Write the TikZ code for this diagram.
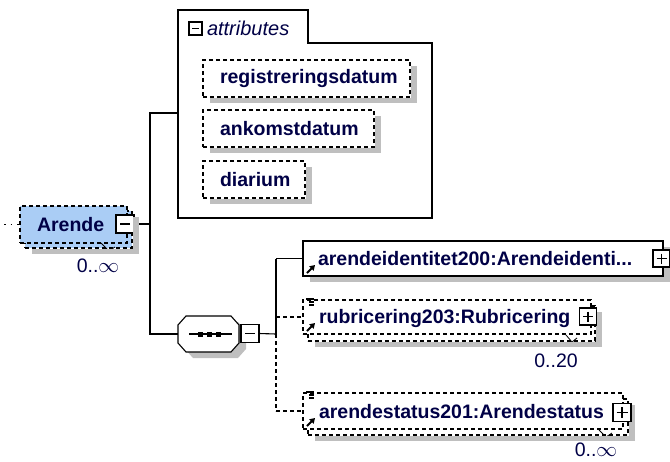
\documentclass[tikz,border=0pt]{standalone}
\usepackage{fontspec}
\setmainfont{Liberation Sans}
\usetikzlibrary{arrows.meta}
\definecolor{xsnavy}{RGB}{0,0,70}
\definecolor{xsblue}{RGB}{170,205,245}
\begin{document}
\begin{tikzpicture}[x=1pt,y=-1pt,
  every node/.style={inner sep=0pt,outer sep=0pt},
  box/.style={draw,line width=1.1pt,fill=white,anchor=north west},
  optbox/.style={box,dash pattern=on 4pt off 3pt},
  grey shadow/.style={fill=black!25},
  elname/.style={font=\fontsize{19.5}{22}\selectfont\bfseries,text=xsnavy,anchor=west},
  occurs/.style={font=\fontsize{19.5}{22}\selectfont,text=xsnavy},
  pm/.style={draw,line width=1.1pt,fill=white,minimum size=17pt},
  wire/.style={line width=1.1pt},
  optwire/.style={wire,dash pattern=on 4pt off 3pt},
  reftip/.style={line width=1.8pt,-{Triangle[length=5pt,width=6pt]}}]
\useasboundingbox (0,0) rectangle (670,461);

\node[optbox,fill=xsblue,minimum width=107,minimum height=37] (arendeback) at (25,211) {};
\node[optbox,fill=xsblue,minimum width=107,minimum height=37] (arende) at (20,206) {};
\node[elname] (arendetxt) at ([shift={(17,0)}]arende.west) {Arende};
\node[pm,minimum size=18pt] (arendem) at (125,224) {};
\draw[wire] ([shift={(4,0)}]arendem.west) -- ([shift={(-4,0)}]arendem.east);
\draw[line width=0.8pt] (101,243) -- (109,251) -- (115,247);
\node[occurs] (arendeocc) at (98,266) {0..$\infty$};
\coordinate (src) at (4,224.5);
\draw[wire,dash pattern=on 1.5pt off 5pt] (src) -- (arende.west);

\draw[wire,fill=white] (178,218) -- (178,10) -- (308,10) -- (308,43) -- (432,43) -- (432,218) -- cycle;
\coordinate (attrin) at (178,113);
\node[pm,minimum size=13pt] (attrm) at (195.5,28.5) {};
\draw[wire] ([shift={(3,0)}]attrm.west) -- ([shift={(-3,0)}]attrm.east);
\node[font=\fontsize{20}{22}\selectfont\itshape,text=xsnavy,anchor=west] (attrtxt) at (207,28) {attributes};
\foreach \n/\t/\y/\w in {reg/registreringsdatum/60/207,ank/ankomstdatum/110/171,dia/diarium/161/102} {
  \node[optbox,minimum width=\w,minimum height=37] (\n) at (203,\y) {};
  \node[elname] at ([shift={(17,0)}]\n.west) {\t};
}

\coordinate (jt) at (150,113);
\coordinate (ja) at (150,224);
\coordinate (jb) at (150,334);
\node[minimum width=61,minimum height=36] (seq) at (208.5,334) {};
\draw[wire] (attrin) -- (jt) -- (jb) -- (seq.west);
\draw[wire] (arendem.east) -- (ja);

\fill[grey shadow] (193,322) -- (238,322) -- (246,331) -- (246,349) -- (238,358) -- (193,358) -- (185,349) -- (185,331) -- cycle;
\draw[wire,fill=white] ([shift={(8,0)}]seq.north west) -- ([shift={(-8,0)}]seq.north east)
  -- ([shift={(0,9)}]seq.north east) -- ([shift={(0,-9)}]seq.south east)
  -- ([shift={(-8,0)}]seq.south east) -- ([shift={(8,0)}]seq.south west)
  -- ([shift={(0,-9)}]seq.south west) -- ([shift={(0,9)}]seq.north west) -- cycle;
\draw[wire] (189,334) -- (232,334);
\foreach \x in {200,209,218}
  \fill (\x-2.5,331.5) rectangle (\x+2.5,336.5);
\node[pm,minimum size=18pt] (seqm) at (250,333.5) {};
\draw[wire] ([shift={(4,0)}]seqm.west) -- ([shift={(-4,0)}]seqm.east);

\coordinate (jd) at (276,258.5);
\coordinate (jc) at (276,334);
\coordinate (jr) at (276,317);
\coordinate (je) at (276,411);
\draw[wire] (seqm.east) -- (jc);
\draw[wire] (jd) -- (jc);
\draw[optwire] (jc) -- (je);

\node[box,minimum width=360,minimum height=35] (ident) at (303,241) {};
\node[elname] (identtxt) at ([shift={(15,0)}]ident.west) {arendeidentitet200:Arendeidenti...};
\draw[wire] (jd) -- (ident.west);

\node[optbox,minimum width=287,minimum height=35] (rubrback) at (308,306) {};
\node[optbox,minimum width=288,minimum height=34] (rubr) at (303,300) {};
\node[elname] (rubrtxt) at ([shift={(16,1)}]rubr.west) {rubricering203:Rubricering};
\draw[line width=0.8pt] (566,335) -- (572,342) -- (577,338);
\node[occurs] (rubrocc) at (556,361) {0..20};
\draw[optwire] (jr) -- (rubr.west);

\node[optbox,minimum width=320,minimum height=36] (arstback) at (308,399) {};
\node[optbox,minimum width=320,minimum height=36] (arst) at (303,393) {};
\node[elname] (arsttxt) at ([shift={(16,1)}]arst.west) {arendestatus201:Arendestatus};
\draw[line width=0.8pt] (599,430) -- (606,437) -- (612,433);
\node[occurs] (arstocc) at (596,450) {0..$\infty$};
\draw[optwire] (je) -- (arst.west);

\foreach \n in {arendeback,reg,ank,dia,ident,rubrback,arstback} {
  \fill[grey shadow] ([shift={(0.6,6)}]\n.north east) rectangle ([shift={(7,6)}]\n.south east);
  \fill[grey shadow] ([shift={(7,0.6)}]\n.south west) rectangle ([shift={(7,6)}]\n.south east);
}
\node[pm] (identp) at (661.5,258.5) {};
\node[pm] (rubrp) at (588,316.5) {};
\node[pm,minimum size=18pt] (arstp) at (622,412.5) {};

\foreach \b in {rubr,arst} {
  \draw[line width=1.2pt] ([shift={(3,-1)}]\b.north west) -- ([shift={(11,-1)}]\b.north west);
  \draw[line width=1.2pt] ([shift={(6,2)}]\b.north west) -- ([shift={(11,2)}]\b.north west);
  \draw[line width=1.2pt] ([shift={(6,5)}]\b.north west) -- ([shift={(11,5)}]\b.north west);
}
\foreach \b in {ident,rubr,arst}
  \draw[reftip] ([shift={(4,-3)}]\b.south west) -- ([shift={(12,-11)}]\b.south west);
\foreach \p in {identp,rubrp,arstp} {
  \draw[wire] ([shift={(3.5,0)}]\p.west) -- ([shift={(-3.5,0)}]\p.east);
  \draw[wire] ([shift={(0,3.5)}]\p.north) -- ([shift={(0,-3.5)}]\p.south);
}
\end{tikzpicture}
\end{document}
